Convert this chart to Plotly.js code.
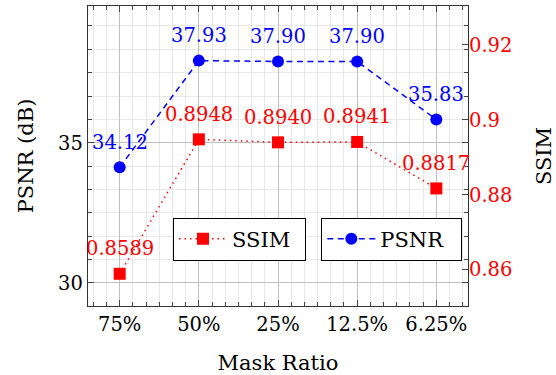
<!DOCTYPE html>
<html>
<head>
<meta charset="utf-8">
<script src="https://cdn.plot.ly/plotly-3.0.1.min.js"></script>
<style>html,body{margin:0;padding:0;background:#fff;}#chart{width:556px;height:375px;}</style>
</head>
<body>
<div id="chart"></div>
<script>
const categories = ['75%', '50%', '25%', '12.5%', '6.25%'];
const psnr = [34.12, 37.93, 37.90, 37.90, 35.83];
const ssim = [0.8589, 0.8948, 0.8940, 0.8941, 0.8817];
const psnrLabels = ['34.12', '37.93', '37.90', '37.90', '35.83'];
const ssimLabels = ['0.8589', '0.8948', '0.8940', '0.8941', '0.8817'];
const ssimTickVals = [0.86, 0.88, 0.90, 0.92];
const ssimTickText = ['0.86', '0.88', '0.9', '0.92'];

const FONT = '"DejaVu Serif", serif';
const NUM = 19.5;
const TITLE = 21;
const xs = categories.map((c, i) => i);

const traces = [
  {
    x: xs, y: ssim, yaxis: 'y2', name: 'SSIM', type: 'scatter', mode: 'lines+markers',
    line: {color: '#ff0000', width: 1.5, dash: '1.5px,4px'},
    marker: {symbol: 'square', size: 12, color: '#ff0000'},
    legend: 'legend'
  },
  {
    x: xs, y: psnr, yaxis: 'y', name: 'PSNR', type: 'scatter', mode: 'lines+markers',
    line: {color: '#0000ff', width: 1.5, dash: '6px,4.5px'},
    marker: {symbol: 'circle', size: 12, color: '#0000ff'},
    legend: 'legend2'
  }
];

const annotations = [];
psnr.forEach((v, i) => annotations.push({
  x: xs[i], y: v, xref: 'x', yref: 'y', text: psnrLabels[i], showarrow: false,
  yanchor: 'middle', xanchor: 'center', yshift: 25,
  font: {family: FONT, size: NUM, color: '#0000ff'}
}));
ssim.forEach((v, i) => annotations.push({
  x: xs[i], y: v, xref: 'x', yref: 'y2', text: ssimLabels[i], showarrow: false,
  yanchor: 'middle', xanchor: 'center', yshift: 25,
  font: {family: FONT, size: NUM, color: '#ff0000'}
}));

const layout = {
  width: 556, height: 375,
  margin: {l: 88, r: 88, t: 6, b: 69, pad: 0},
  paper_bgcolor: '#fff', plot_bgcolor: '#fff',
  font: {family: FONT, size: NUM, color: '#000'},
  xaxis: {
    range: [-0.4, 4.4], tickmode: 'array', tickvals: xs, ticktext: categories,
    ticks: 'inside', ticklen: 6, tickcolor: '#444', tickwidth: 1,
    showline: true, linecolor: '#333', linewidth: 1.3, mirror: 'ticks',
    showgrid: true, gridcolor: '#c0c0c0', gridwidth: 1, zeroline: false,
    minor: {tickmode: 'linear', tick0: 0, dtick: 1/6, ticks: 'inside', ticklen: 4, tickcolor: '#444', showgrid: true, gridcolor: '#e8e8e8', gridwidth: 1},
    tickfont: {family: FONT, size: NUM, color: '#000'},
    title: {text: 'Mask Ratio', font: {family: FONT, size: TITLE, color: '#000'}, standoff: 20}
  },
  yaxis: {
    range: [29.17, 39.88], tickmode: 'linear', tick0: 0, dtick: 5,
    ticks: 'inside', ticklen: 6, tickcolor: '#444', tickwidth: 1,
    showline: true, linecolor: '#333', linewidth: 1.3, mirror: 'ticks',
    showgrid: true, gridcolor: '#c0c0c0', gridwidth: 1, zeroline: false,
    minor: {tickmode: 'linear', tick0: 0, dtick: 5/6, ticks: 'inside', ticklen: 4, tickcolor: '#444', showgrid: true, gridcolor: '#e8e8e8', gridwidth: 1},
    tickfont: {family: FONT, size: NUM, color: '#000'},
    title: {text: 'PSNR (dB)', font: {family: FONT, size: TITLE, color: '#000'}, standoff: 18}
  },
  yaxis2: {
    overlaying: 'y', side: 'right', range: [0.8503, 0.9304],
    tickmode: 'array', tickvals: ssimTickVals, ticktext: ssimTickText,
    ticks: 'inside', ticklen: 6, tickcolor: '#444', tickwidth: 1,
    showline: false, showgrid: false, zeroline: false,
    tickfont: {family: FONT, size: NUM, color: '#ff0000'},
    title: {text: 'SSIM', font: {family: FONT, size: TITLE, color: '#000'}, standoff: 24}
  },
  showlegend: true,
  legend: {
    x: 0.2237, y: 0.2947, xanchor: 'left', yanchor: 'top', orientation: 'h',
    entrywidth: 68, entrywidthmode: 'pixels',
    bgcolor: '#fff', bordercolor: '#000', borderwidth: 1,
    font: {family: FONT, size: TITLE, color: '#000'}, itemwidth: 48
  },
  legend2: {
    x: 0.614, y: 0.2947, xanchor: 'left', yanchor: 'top', orientation: 'h',
    entrywidth: 76, entrywidthmode: 'pixels',
    bgcolor: '#fff', bordercolor: '#000', borderwidth: 1,
    font: {family: FONT, size: TITLE, color: '#000'}, itemwidth: 48
  },
  annotations: annotations
};

Plotly.newPlot('chart', traces, layout, {displayModeBar: false, staticPlot: true});
</script>
</body>
</html>
